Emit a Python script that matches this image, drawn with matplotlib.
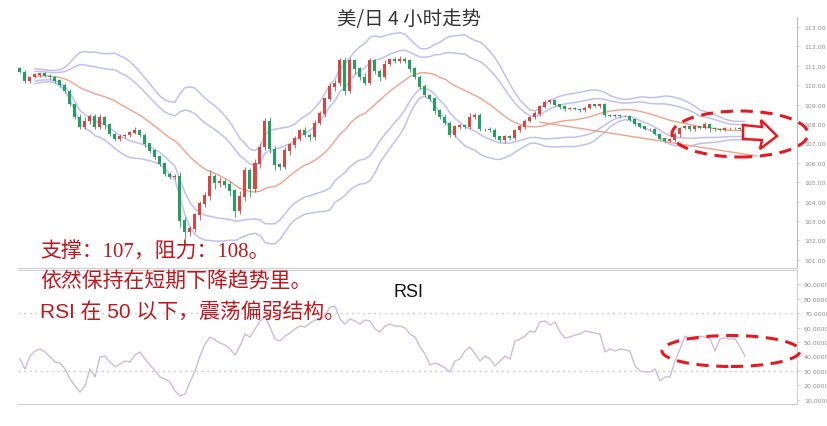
import numpy as np
import pandas as pd
import matplotlib
matplotlib.use("Agg")
import matplotlib.pyplot as plt
from matplotlib.patches import Ellipse, Polygon

# ---------------- data ----------------
first_open = 110.85
closes = [
    110.68, 110.22, 110.42, 110.53, 110.58, 110.47, 110.42, 110.22, 110.01, 109.70,
    109.03, 108.36, 107.85, 108.15, 108.41, 107.85, 108.36, 107.95, 107.48, 107.23,
    107.38, 107.43, 107.54, 107.69, 107.43, 106.97, 106.61, 106.30, 105.94, 105.42,
    105.27, 105.27, 103.00, 102.43, 102.59, 103.31, 103.88, 104.29, 105.27, 104.96,
    105.01, 104.86, 104.55, 103.52, 104.24, 105.58, 104.65, 105.94, 106.81, 108.15,
    106.71, 105.89, 105.78, 106.61, 106.92, 107.23, 107.64, 107.43, 107.33, 108.05,
    108.52, 109.29, 109.91, 110.11, 111.25, 109.70, 111.25, 110.84, 110.42, 110.11,
    111.25, 110.73, 110.42, 111.09, 111.35, 111.25, 111.35, 111.25, 110.84, 110.42,
    109.91, 109.49, 109.29, 108.67, 108.36, 108.05, 107.43, 107.85, 107.90, 107.85,
    108.36, 108.46, 107.74, 107.74, 107.69, 107.33, 107.18, 107.33, 107.28, 107.69,
    107.85, 108.15, 108.36, 108.52, 108.88, 109.13, 109.19, 108.98, 108.88, 108.77,
    108.82, 108.77, 108.72, 108.82, 108.98, 108.93, 108.98, 108.46, 108.41, 108.46,
    108.41, 108.41, 108.21, 108.00, 107.85, 107.74, 107.74, 107.48, 107.23, 107.12,
    107.18, 107.48, 107.79, 107.85, 107.74, 107.85, 107.79, 107.95, 107.79, 107.74,
    107.69, 107.79, 107.79, 107.79, 107.74, 107.74,
]
wick_hi = [
    .08, .10, .06, .12, .05, .08, .10, .06, .09, .12,
    .10, .08, .15, .20, .10, .12, .18, .08, .10, .06,
    .12, .08, .10, .15, .08, .10, .06, .12, .08, .10,
    .10, .15, .25, .20, .18, .12, .15, .20, .35, .15,
    .25, .15, .20, .10, .30, .20, .15, .25, .20, .15,
    .20, .15, .12, .20, .10, .15, .12, .20, .10, .15,
    .15, .12, .20, .15, .18, .20, .15, .10, .12, .20,
    .15, .10, .12, .20, .08, .12, .15, .10, .08, .12,
    .10, .15, .08, .12, .10, .15, .10, .12, .08, .10,
    .20, .12, .10, .08, .12, .10, .08, .12, .10, .08,
    .10, .12, .08, .15, .10, .12, .08, .10, .06, .08,
    .05, .08, .06, .10, .08, .06, .05, .10, .06, .08,
    .05, .08, .06, .05, .08, .06, .05, .08, .06, .05,
    .08, .10, .06, .12, .08, .10, .06, .15, .08, .06,
    .05, .08, .06, .05, .06, .05,
]
wick_lo = [
    .06, .12, .08, .05, .10, .06, .08, .10, .12, .08,
    .10, .12, .08, .10, .15, .12, .10, .20, .08, .12,
    .10, .08, .12, .06, .10, .15, .08, .10, .12, .08,
    .10, .12, .30, .35, .20, .15, .25, .18, .20, .30,
    .20, .15, .25, .30, .15, .20, .40, .15, .20, .15,
    .20, .25, .15, .10, .20, .15, .12, .10, .20, .15,
    .12, .15, .10, .20, .15, .20, .10, .25, .15, .10,
    .12, .15, .20, .08, .10, .12, .08, .10, .15, .10,
    .08, .12, .10, .15, .10, .12, .10, .08, .12, .10,
    .10, .08, .12, .10, .08, .12, .10, .15, .08, .10,
    .08, .10, .06, .08, .10, .06, .08, .06, .10, .08,
    .06, .05, .08, .10, .06, .05, .08, .12, .06, .05,
    .08, .06, .05, .08, .06, .05, .08, .06, .05, .08,
    .06, .08, .15, .06, .10, .08, .05, .06, .20, .08,
    .06, .05, .08, .06, .05, .06,
]
rsi = [
    38.3, 31.4, 40.3, 43.8, 45.2, 43.1, 39.7, 36.2, 35.5, 31.4,
    24.5, 19.7, 15.5, 19.7, 31.4, 25.9, 39.7, 40.3, 36.2, 32.8,
    34.8, 36.9, 36.2, 41.0, 43.1, 38.3, 34.1, 30.0, 25.9, 24.5,
    22.4, 16.2, 12.8, 14.1, 22.4, 30.0, 40.3, 48.6, 53.4, 51.4,
    49.3, 47.9, 45.2, 41.0, 47.2, 55.5, 53.4, 59.0, 64.5, 67.2,
    60.3, 52.1, 50.7, 54.1, 56.2, 59.0, 61.0, 60.3, 63.1, 65.2,
    65.2, 68.6, 74.1, 74.8, 65.9, 62.4, 65.9, 64.5, 62.4, 65.2,
    64.5, 59.0, 56.9, 61.0, 62.4, 61.0, 61.0, 59.7, 55.5, 53.4,
    46.6, 41.7, 34.1, 35.5, 34.1, 32.1, 29.3, 36.9, 38.3, 43.8,
    46.6, 41.7, 36.9, 40.3, 38.3, 33.4, 36.9, 40.3, 38.3, 50.7,
    52.1, 54.1, 57.6, 56.9, 63.8, 64.5, 61.7, 63.8, 56.9, 52.8,
    53.4, 54.8, 55.5, 57.6, 56.9, 56.2, 55.5, 43.1, 45.2, 43.8,
    45.2, 44.5, 43.8, 33.4, 30.0, 29.3, 29.3, 31.4, 23.1, 25.9,
    25.9, 36.9, 45.2, 54.1, 52.1, 51.4, 54.1, 53.4, 52.1, 43.8,
    52.1, 52.8, 52.1, 52.1, 46.6, 40.3,
]
# hand-drawn support trendline (bar index, price) on the right side
trend_x = [104, 147.4]
trend_y = [108.10, 106.35]
price_ticks = [101, 102, 103, 104, 105, 106, 107, 108, 109, 110, 111, 112, 113]
rsi_ticks = [10, 20, 30, 40, 50, 60, 70, 80, 90]
rsi_levels = [30, 70]
title = "美/日 4 小时走势"
notes = ["支撑：107，阻力：108。", "依然保持在短期下降趋势里。", "RSI 在 50 以下，震荡偏弱结构。"]

# ---------------- derived ----------------
c = np.array(closes)
o = np.concatenate([[first_open], c[:-1]])
h = np.maximum(o, c) + np.array(wick_hi)
l = np.minimum(o, c) - np.array(wick_lo)
x = np.arange(len(c))
s = pd.Series(c)
mid = s.rolling(20, min_periods=4).mean()
sd = s.rolling(20, min_periods=4).std()

W, H = 828, 427
fig = plt.figure(figsize=(W / 100, H / 100), dpi=100)
fig.patch.set_facecolor("white")

def fx(px):
    return px / W

def fy(py):
    return 1 - py / H

ax = fig.add_axes([fx(18), fy(269), fx(797) - fx(18), fy(18) - fy(269)])
ax2 = fig.add_axes([fx(18), fy(405), fx(797) - fx(18), fy(271) - fy(405)])

up_col, dn_col = "#d9453f", "#22a060"
band_col, mid_col = "#c0c0f2", "#f3a08e"

# bands
ax.plot(x, mid + 2.0 * sd, color=band_col, lw=1.1, zorder=1)
ax.plot(x, mid + 1.3 * sd, color=band_col, lw=1.1, zorder=1)
ax.plot(x, mid - 1.3 * sd, color=band_col, lw=1.1, zorder=1)
ax.plot(x, mid - 2.0 * sd, color=band_col, lw=1.1, zorder=1)
ax.plot(x, mid, color=mid_col, lw=1.0, zorder=1)
ax.plot(trend_x, trend_y, color=mid_col, lw=1.0, zorder=1, clip_on=False)

# candles
cols = np.where(c >= o, up_col, dn_col)
ax.vlines(x, l, h, colors=cols, lw=0.6, zorder=2)
ax.bar(x, np.abs(c - o) + 0.03, bottom=np.minimum(o, c), width=0.6,
       color=cols, edgecolor=cols, lw=0, zorder=3)

ax.set_xlim(-0.4, 155.4)
ax.set_ylim(100.58, 113.52)
ax.set_yticks(price_ticks)
ax.set_yticklabels([f"{v:.2f}" for v in price_ticks])
ax.yaxis.tick_right()
ax.set_xticks([])
for sp in ["left", "top"]:
    ax.spines[sp].set_visible(False)
ax.spines["right"].set_color("#bdbdbd")
ax.spines["bottom"].set_color("#d0d0d0")
ax.tick_params(axis="y", labelsize=4.5, labelcolor="#8c8c8c", color="#cfcfcf",
               length=2, width=0.6, pad=3)

# RSI
ax2.plot(np.arange(len(rsi)), rsi, color="#cdbcd9", lw=1.0)
for lv in rsi_levels:
    ax2.axhline(lv, color="#cfcfcf", lw=1.0, ls=(0, (1.5, 2.5)))
ax2.set_xlim(-0.4, 155.4)
ax2.set_ylim(7.2, 99.7)
ax2.set_yticks(rsi_ticks)
ax2.set_yticklabels([f"{v:.4f}" for v in rsi_ticks])
ax2.yaxis.tick_right()
ax2.set_xticks([])
ax2.spines["left"].set_visible(False)
for sp in ["right", "top", "bottom"]:
    ax2.spines[sp].set_color("#cfcfcf")
ax2.tick_params(axis="y", labelsize=4.5, labelcolor="#8c8c8c", color="#cfcfcf",
                length=2, width=0.6, pad=3)

# texts
fig.text(fx(409), fy(20), title, ha="center", va="center", fontsize=14,
         color="#333333", family=["Noto Sans CJK SC", "DejaVu Sans"])
fig.text(fx(409), fy(293), "RSI", ha="center", va="center", fontsize=13,
         color="#111111", family=["Liberation Sans", "DejaVu Sans"])
red = "#c0171d"
ys = [252, 282, 312]
fams = [["Liberation Serif", "Noto Sans CJK SC"], ["Noto Sans CJK SC"],
        ["Liberation Sans", "Noto Sans CJK SC"]]
for t, yy, fam in zip(notes, ys, fams):
    fig.text(fx(40), fy(yy), t, ha="left", va="center", fontsize=15, color=red,
             family=fam)

# annotations: dashed ellipses and hollow arrow
ell_col = "#e8191e"
e1 = Ellipse((fx(740), fy(135)), fx(136), 46 / H, transform=fig.transFigure,
             fill=False, edgecolor=ell_col, lw=2.2, ls=(0, (4, 2.5)), clip_on=False)
e2 = Ellipse((fx(731), fy(352)), fx(138), 31 / H, transform=fig.transFigure,
             fill=False, edgecolor=ell_col, lw=2.2, ls=(0, (4, 2.5)), clip_on=False)
fig.add_artist(e1)
fig.add_artist(e2)
arrow_px = [(743, 126), (762, 128), (761, 121), (777, 137), (760, 150), (762, 141), (743, 140)]
arr = Polygon([(fx(a), fy(b)) for a, b in arrow_px], closed=True, transform=fig.transFigure,
              facecolor="white", edgecolor=ell_col, lw=1.8, zorder=5)
fig.add_artist(arr)

fig.savefig("out.png", dpi=100)
